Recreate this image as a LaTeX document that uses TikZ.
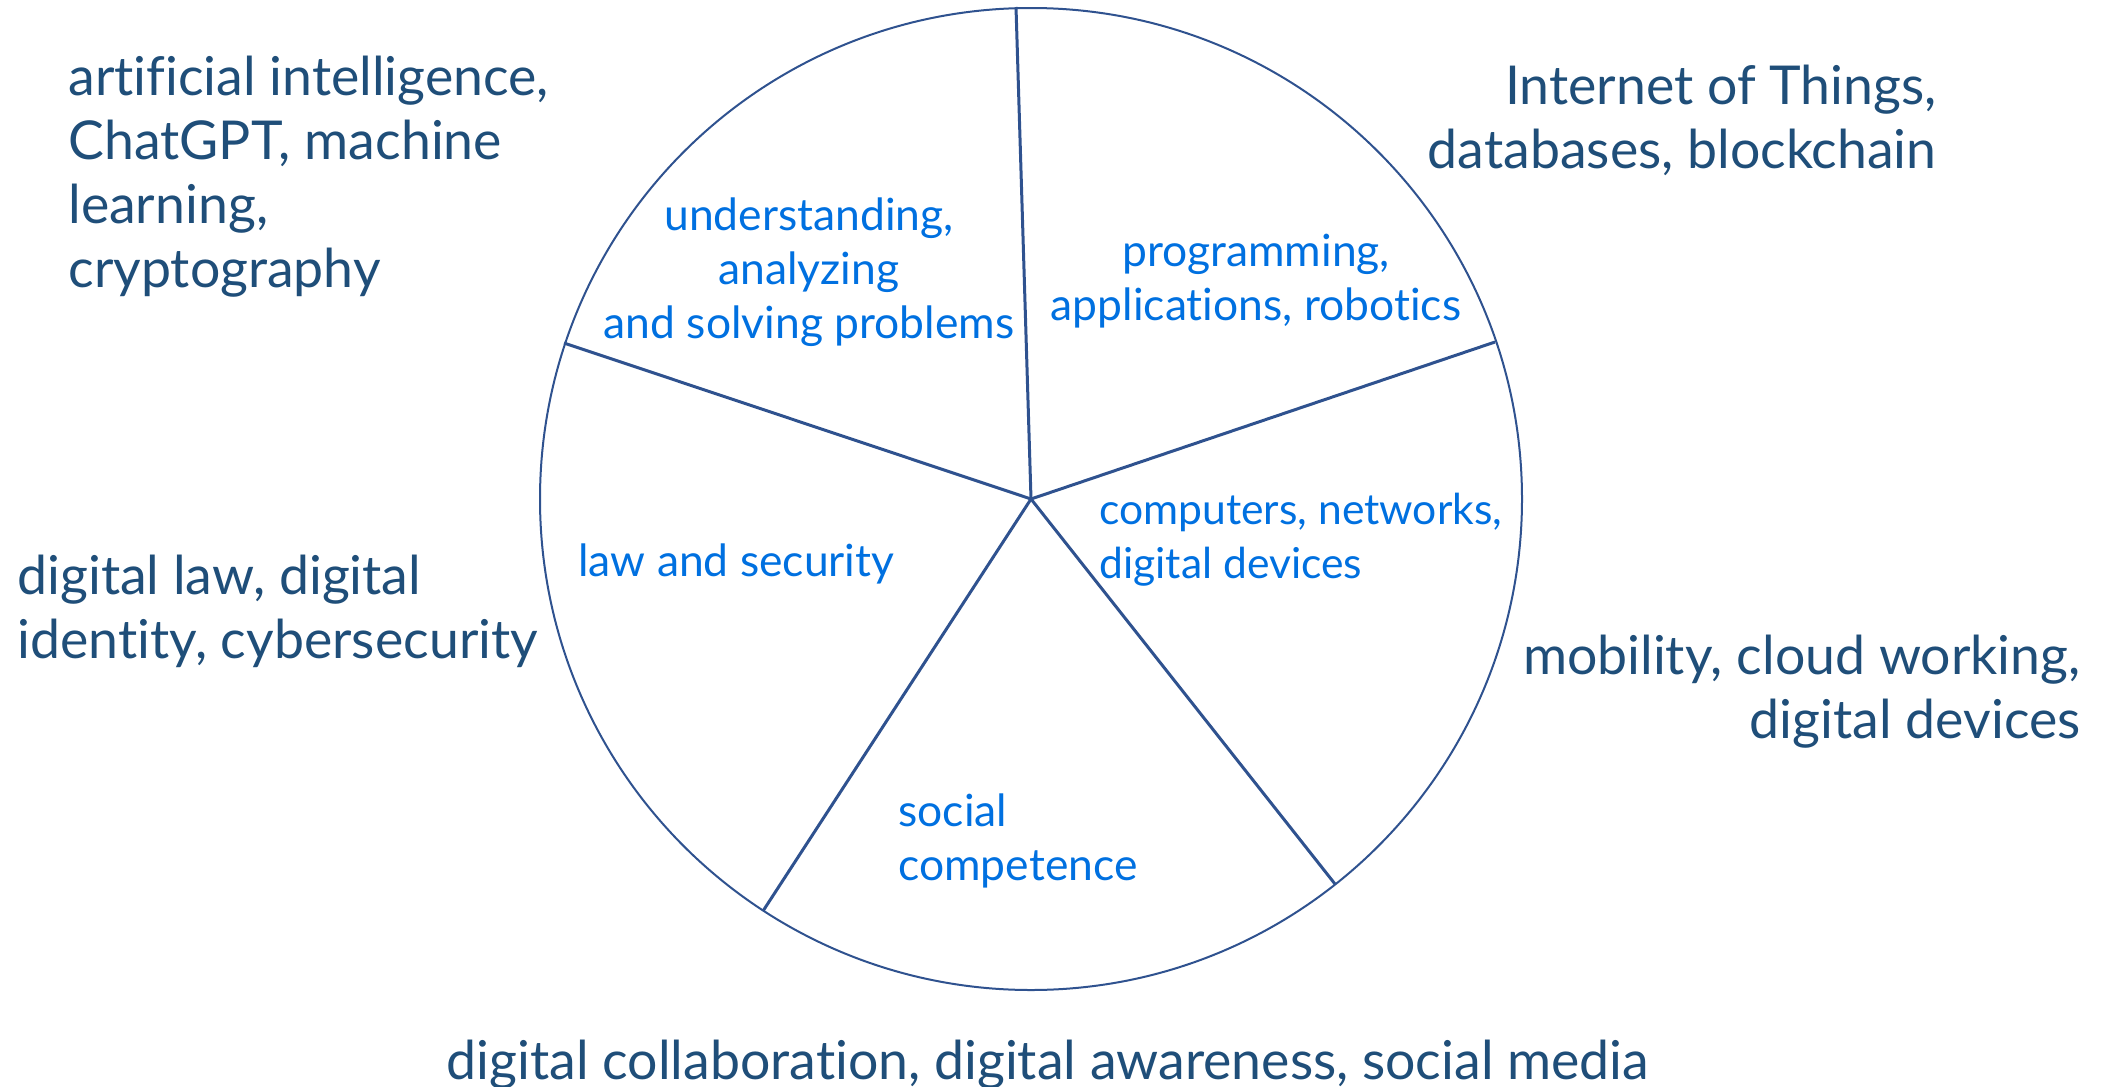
\documentclass[tikz,border=0pt]{standalone}
\usepackage{fontspec}
\setmainfont{Lato}[Ligatures={NoCommon}]
\usepackage{tikz}
\definecolor{rimblue}{RGB}{47,82,143}
\definecolor{outerblue}{RGB}{31,78,121}
\definecolor{innerblue}{RGB}{0,112,224}
\tikzset{
  rimline/.style={draw=rimblue, line width=1pt},
  spokeline/.style={draw=rimblue, line width=1.5pt},
  outertext/.style={text=outerblue, font=\fontsize{26.8}{32}\selectfont, inner sep=0pt},
  innertext/.style={text=innerblue, font=\fontsize{22.2}{27}\selectfont, inner sep=0pt}
}

\begin{document}
\begin{tikzpicture}[x=0.5pt, y=-0.5pt]
        \useasboundingbox (0,0) rectangle (2110,1087);
        % pie
        \coordinate (c) at (1031,499);
        \coordinate (top) at (1016,7);
        \coordinate (ur) at (1495,342);
        \coordinate (ul) at (564,343);
        \coordinate (lr) at (1335,884);
        \coordinate (ll) at (763,911);
        \draw[rimline] (c) circle (491);
        \draw[spokeline] (c) -- (top);
        \draw[spokeline] (c) -- (ur);
        \draw[spokeline] (c) -- (ul);
        \draw[spokeline] (c) -- (lr);
        \draw[spokeline] (c) -- (ll);
        % sectors (anchored at the last line)
        \node[innertext, anchor=base, align=center] (solve) at (809,338) {understanding,\\analyzing\\and solving problems};
        \node[innertext, anchor=base, align=center] (prog) at (1256,320) {programming,\\applications, robotics};
        \node[innertext, font=\fontsize{21.3}{27}\selectfont, anchor=base west, align=left] (comp) at (1099,578) {computers, networks,\\digital devices};
        \node[innertext, anchor=base west] (sec) at (578,576) {law and security};
        \node[innertext, anchor=base west, align=left] (soc) at (898,880) {social\\competence};
        % outside
        \node[outertext, anchor=base west, align=left] (ai) at (68,287) {artificial intelligence,\\ChatGPT, machine\\learning,\\cryptography};
        \node[outertext, anchor=base east, align=right] (iot) at (1937,168) {Internet of Things,\\databases, blockchain};
        \node[outertext, anchor=base east, align=right] (mob) at (2081,738) {mobility, cloud working,\\digital devices};
        \node[outertext, anchor=base west, align=left] (law) at (17,658) {digital law, digital\\identity, cybersecurity};
        \node[outertext, anchor=base] (collab) at (1048,1079) {digital collaboration, digital awareness, social media};
\end{tikzpicture}
\end{document}
